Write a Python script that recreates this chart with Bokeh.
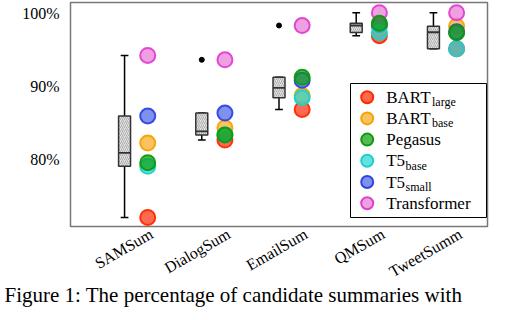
import numpy as np
from math import pi
from bokeh.plotting import figure
from bokeh.models import Range1d, FixedTicker, ColumnDataSource, Title
from bokeh.core.properties import value
from bokeh.embed import file_html
from bokeh.resources import INLINE

# ---------------- data ----------------
categories = ["SAMSum", "DialogSum", "EmailSum", "QMSum", "TweetSumm"]
model_names = ["BART", "BART", "Pegasus", "T5", "T5", "Transformer"]
model_subs = ["large", "base", "", "base", "small", ""]

bart_large = [72.1, 82.7, 86.9, 97.0, 95.2]
bart_base = [82.3, 84.4, 88.8, 98.3, 98.3]
pegasus = [79.6, 83.4, 91.3, 98.7, 97.4]
t5_base = [79.1, 83.4, 88.5, 97.45, 95.2]
t5_small = [86.0, 86.4, 90.9, 98.5, 97.55]
transformer = [94.3, 93.7, 98.4, 100.15, 100.15]

y_ticks = [80, 90, 100]
y_tick_labels = ["80%", "90%", "100%"]
caption_text = "Figure 1: The percentage of candidate summaries with"

series = [bart_large, bart_base, pegasus, t5_base, t5_small, transformer]
line_colors = ["#ff2a00", "#f5a300", "#0f990f", "#1cd0d0", "#2f45e0", "#e040d0"]
fill_colors = ["#ff2a05", "#f5ab1c", "#0c9e0c", "#24d3d3", "#4a61e7", "#e777d3"]
draw_order = [0, 1, 4, 3, 5, 2]

FONT = "Liberation Serif"

# ---------------- figure ----------------
W, H = 522, 312
BL, BR, BT, BB = 70, 35, 2, 86
X0, X1 = -1.0, 4.40
Y0, Y1 = 70.86, 101.55
p = figure(width=W, height=H, output_backend="svg", toolbar_location=None,
           x_range=Range1d(X0, X1), y_range=Range1d(Y0, Y1),
           min_border_left=BL, min_border_right=BR, min_border_top=BT,
           min_border_bottom=BB)
p.background_fill_color = "white"
p.border_fill_color = "white"
p.outline_line_color = "#777777"
p.outline_line_width = 1.5
p.xgrid.visible = False
p.ygrid.visible = False

FW, FH = W - BL - BR, H - BT - BB

def fig_x(px):  # figure pixel -> data x
    return X0 + (px - BL) * (X1 - X0) / FW

def fig_y(py):  # figure pixel -> data y
    return Y1 - (py - BT) * (Y1 - Y0) / FH

xs = np.arange(len(categories), dtype=float)
box_shift = -0.3
box_w = 0.155
cap_w = 0.1

# ---------------- box plots (Tukey hinges, 1.5 IQR whiskers) ----------------
data = np.array(series)  # models x categories
q1s, meds, q3s, los, his = [], [], [], [], []
out_x, out_y = [], []
for j in range(len(categories)):
    s = np.sort(data[:, j])
    n = len(s)
    med = float(np.median(s))
    q1 = float(np.median(s[: n // 2]))
    q3 = float(np.median(s[(n + 1) // 2:]))
    iqr = q3 - q1
    lo_f, hi_f = q1 - 1.5 * iqr, q3 + 1.5 * iqr
    inside = s[(s >= lo_f) & (s <= hi_f)]
    q1s.append(q1); meds.append(med); q3s.append(q3)
    los.append(float(inside.min())); his.append(float(inside.max()))
    for v in s[(s < lo_f) | (s > hi_f)]:
        out_x.append(xs[j] + box_shift); out_y.append(float(v))

bx = xs + box_shift
box_src = ColumnDataSource(dict(x=bx, q1=q1s, q3=q3s, med=meds, lo=los, hi=his,
                                x0=bx - box_w / 2, x1=bx + box_w / 2,
                                c0=bx - cap_w / 2, c1=bx + cap_w / 2))
p.segment(x0="x", y0="q3", x1="x", y1="hi", source=box_src, line_color="black", line_width=1.5)
p.segment(x0="x", y0="q1", x1="x", y1="lo", source=box_src, line_color="black", line_width=1.5)
p.segment(x0="c0", y0="hi", x1="c1", y1="hi", source=box_src, line_color="black", line_width=1.5)
p.segment(x0="c0", y0="lo", x1="c1", y1="lo", source=box_src, line_color="black", line_width=1.5)
p.vbar(x="x", width=box_w, bottom="q1", top="q3", source=box_src,
       fill_color="#e2e2e2", line_color="#333333", line_width=1.5,
       hatch_pattern="/", hatch_color="#8a8a8a", hatch_weight=0.6, hatch_scale=4)
p.segment(x0="x0", y0="med", x1="x1", y1="med", source=box_src, line_color="#333333", line_width=1.8)
p.scatter(x=out_x, y=out_y, size=5, marker="circle", color="black")

# ---------------- model markers ----------------
for k in draw_order:
    p.scatter(x=xs, y=series[k], size=15, marker="circle",
              fill_color=fill_colors[k], fill_alpha=0.7,
              line_color=line_colors[k], line_width=2, line_alpha=0.95)

# ---------------- axes ----------------
label_shift = 0.05
tick_pos = [float(round(x + label_shift, 2)) for x in xs]
p.yaxis.ticker = FixedTicker(ticks=y_ticks)
p.yaxis.major_label_overrides = {t: l for t, l in zip(y_ticks, y_tick_labels)}
p.xaxis.ticker = FixedTicker(ticks=tick_pos)
p.xaxis.major_label_overrides = {t: c for t, c in zip(tick_pos, categories)}
p.xaxis.major_label_orientation = pi / 6
for ax in (p.xaxis, p.yaxis):
    ax.axis_line_color = None
    ax.major_tick_line_color = None
    ax.minor_tick_line_color = None
    ax.major_label_text_font = FONT
    ax.major_label_text_font_size = "16px"
    ax.major_label_text_color = "black"
p.yaxis.major_label_standoff = 5
p.xaxis.major_label_standoff = 0

# ---------------- legend (manual, for subscripts); layout in picture pixels ----------------
p.quad(left=fig_x(350), right=fig_x(486), top=fig_y(83), bottom=fig_y(217),
       fill_color="white", line_color="black", line_width=1)

glyph_w = {"B": 0.667, "A": 0.722, "R": 0.667, "T": 0.611, "5": 0.5}
row_y = [96.7 + 21.2 * i for i in range(len(model_names))]
for i in range(len(model_names)):
    p.scatter(x=[fig_x(366.7)], y=[fig_y(row_y[i])], size=12, marker="circle",
              fill_color=fill_colors[i], fill_alpha=0.7,
              line_color=line_colors[i], line_width=2)
text_x = 385.7
main_src = ColumnDataSource(dict(x=[fig_x(text_x)] * len(model_names),
                                 y=[fig_y(r) for r in row_y], t=model_names))
p.text(x="x", y="y", text="t", source=main_src, text_font=value(FONT),
       text_font_size="17px", text_baseline="middle", text_align="left", text_color="black")
sub_x, sub_y, sub_t = [], [], []
for name, sub, r in zip(model_names, model_subs, row_y):
    if sub:
        w = sum(glyph_w.get(ch, 0.5) for ch in name) * 17
        sub_x.append(fig_x(text_x + w + 0.5))
        sub_y.append(fig_y(r + 5.0))
        sub_t.append(sub)
p.text(x=sub_x, y=sub_y, text=sub_t, text_font=value(FONT),
       text_font_size="12px", text_baseline="middle", text_align="left", text_color="black")

# ---------------- caption (below the axis) ----------------
p.add_layout(Title(text=caption_text, text_font=FONT, text_font_size="21px",
                   text_font_style="normal", text_color="black", align="left",
                   offset=-66, standoff=-19), "below")

open("out.html", "w").write(file_html(p, INLINE))
